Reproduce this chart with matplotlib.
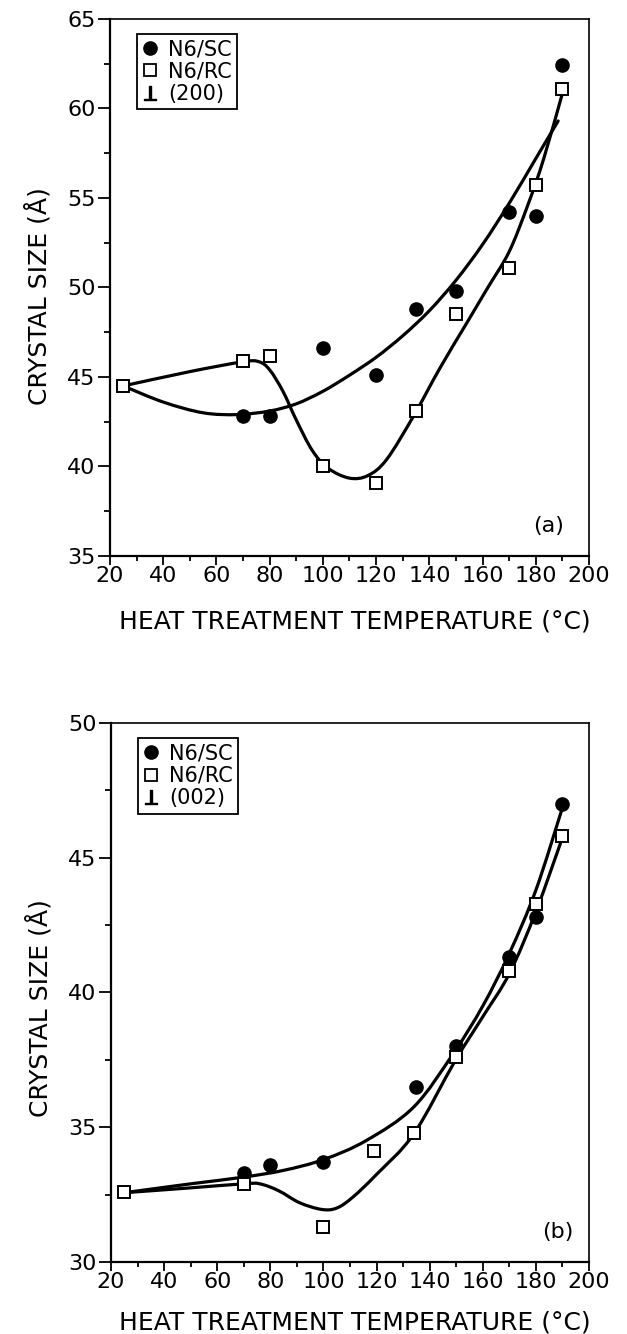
import numpy as np
import matplotlib
matplotlib.use("Agg")
import matplotlib.pyplot as plt
from matplotlib.path import Path
from matplotlib.patches import PathPatch
from matplotlib.lines import Line2D
from matplotlib.ticker import MultipleLocator

plt.rcParams['font.family'] = ['DejaVu Sans']

# ---- measured crystal sizes, perpendicular to (200) ----
temp_a_sc = [70, 80, 100, 120, 135, 150, 170, 180, 190]
size_a_sc = [42.8, 42.8, 46.6, 45.1, 48.8, 49.8, 54.2, 54.0, 62.4]
temp_a_rc = [25, 70, 80, 100, 120, 135, 150, 170, 180, 190]
size_a_rc = [44.5, 45.9, 46.2, 40.0, 39.1, 43.1, 48.5, 51.1, 55.7, 61.1]

# hand-drawn trend curves (knots along each line)
fit_a_sc_t = [25, 40, 55, 68, 80, 90, 100, 110, 120, 130, 140, 150, 160, 170, 180, 188.4]
fit_a_sc_y = [44.5, 43.6, 43.0, 42.9, 43.1, 43.5, 44.2, 45.1, 46.1, 47.3, 48.7, 50.4, 52.4, 54.7, 57.2, 59.3]
fit_a_rc_t = [25, 50, 70, 76, 80, 85, 90, 96, 102, 110, 117, 124, 134, 144, 154, 162, 170, 177, 183, 190.1]
fit_a_rc_y = [44.5, 45.3, 45.85, 45.85, 45.4, 44.2, 42.6, 40.9, 39.9, 39.35, 39.5, 40.4, 42.8, 45.5,
              48.0, 50.0, 52.0, 54.6, 57.2, 60.9]

# ---- measured crystal sizes, perpendicular to (002) ----
temp_b_sc = [70, 80, 100, 135, 150, 170, 180, 190]
size_b_sc = [33.3, 33.6, 33.7, 36.5, 38.0, 41.3, 42.8, 47.0]
temp_b_rc = [25, 70, 100, 119, 134, 150, 170, 180, 190]
size_b_rc = [32.6, 32.9, 31.3, 34.1, 34.8, 37.6, 40.8, 43.3, 45.8]

fit_b_sc_t = [25, 50, 70, 85, 100, 116, 134, 149, 160, 170, 180, 189.9]
fit_b_sc_y = [32.57, 32.9, 33.15, 33.4, 33.8, 34.5, 35.75, 37.75, 39.5, 41.45, 43.8, 46.83]
fit_b_rc_t = [25, 50, 70, 76, 83, 91, 99.3, 105, 111, 120, 134, 149.5, 160, 170, 180, 189.9]
fit_b_rc_y = [32.57, 32.75, 32.9, 32.9, 32.65, 32.2, 31.95, 32.0, 32.4, 33.25, 34.75, 37.45, 39.1,
              40.7, 43.0, 45.72]

x_ticks = [20, 40, 60, 80, 100, 120, 140, 160, 180, 200]


def smooth_curve(ax, ts, ys, lw=2.3):
    """Draw a smooth Catmull-Rom style Bezier path through the given knots."""
    p = np.column_stack([ts, ys]).astype(float)
    pts = np.vstack([p[0], p, p[-1]])
    verts = [tuple(p[0])]
    codes = [Path.MOVETO]
    for i in range(1, len(pts) - 2):
        p0, p1, p2, p3 = pts[i - 1], pts[i], pts[i + 1], pts[i + 2]
        c1 = p1 + (p2 - p0) / 6.0
        c2 = p2 - (p3 - p1) / 6.0
        verts += [tuple(c1), tuple(c2), tuple(p2)]
        codes += [Path.CURVE4] * 3
    ax.add_patch(PathPatch(Path(verts, codes), facecolor='none', edgecolor='black',
                           lw=lw, capstyle='round', joinstyle='round', zorder=2))


def style_axes(ax, ylim, plane, tag, tag_x, xlabel_y, ylabel_y):
    ax.set_xlim(20, 200)
    ax.set_ylim(*ylim)
    ax.set_xticks(x_ticks)
    ax.xaxis.set_minor_locator(MultipleLocator(10))
    ax.yaxis.set_major_locator(MultipleLocator(5))
    ax.yaxis.set_minor_locator(MultipleLocator(2.5))
    ax.tick_params(axis='x', which='major', direction='out', length=6.5, width=1.3,
                   labelsize=16, pad=1)
    ax.tick_params(axis='x', which='minor', direction='out', length=3.5, width=1.3)
    ax.tick_params(axis='y', which='major', direction='out', length=8.5, width=1.3,
                   labelsize=16, pad=2)
    ax.tick_params(axis='y', which='minor', direction='out', length=4.5, width=1.3)
    for side in ['left', 'bottom']:
        ax.spines[side].set_linewidth(1.6)
    for side in ['top', 'right']:
        ax.spines[side].set_linewidth(1.2)
    ax.set_xlabel('HEAT TREATMENT TEMPERATURE (°C)', fontsize=18, va='top')
    ax.xaxis.set_label_coords(0.511, xlabel_y)
    ax.set_ylabel('CRYSTAL SIZE (Å)', fontsize=18, va='center')
    ax.yaxis.set_label_coords(-0.150, ylabel_y)

    handles = [
        Line2D([], [], marker='o', ls='none', color='black', markersize=9.5),
        Line2D([], [], marker='s', ls='none', mfc='white', mec='black', mew=1.3, markersize=9),
        Line2D([], [], marker=r'$\perp$', ls='none', color='black', markersize=10),
    ]
    labels = ['N6/SC', 'N6/RC', plane]
    leg = ax.legend(handles, labels, loc='upper left', bbox_to_anchor=(0.056, 0.972),
                    borderaxespad=0, fancybox=False, framealpha=1, edgecolor='black',
                    fontsize=15, handlelength=0.8, handletextpad=0.45, labelspacing=0.12,
                    borderpad=0.25)
    leg.get_frame().set_linewidth(1.3)
    ax.text(tag_x, 0.055, tag, transform=ax.transAxes, fontsize=16, ha='center', va='center')


fig = plt.figure(figsize=(6.27, 13.34), dpi=100)
ax_a = fig.add_axes([0.1754, 0.5832, 0.7640, 0.4026])
ax_b = fig.add_axes([0.1770, 0.0540, 0.7624, 0.4040])

smooth_curve(ax_a, fit_a_sc_t, fit_a_sc_y)
smooth_curve(ax_a, fit_a_rc_t, fit_a_rc_y)
ax_a.plot(temp_a_sc, size_a_sc, 'o', color='black', markersize=9.5, zorder=3)
ax_a.plot(temp_a_rc, size_a_rc, 's', mfc='white', mec='black', mew=1.4, markersize=8.5, zorder=4)
style_axes(ax_a, (35, 65), '(200)', '(a)', 0.915, -0.10, 0.484)

smooth_curve(ax_b, fit_b_sc_t, fit_b_sc_y)
smooth_curve(ax_b, fit_b_rc_t, fit_b_rc_y)
ax_b.plot(temp_b_sc, size_b_sc, 'o', color='black', markersize=9.5, zorder=3)
ax_b.plot(temp_b_rc, size_b_rc, 's', mfc='white', mec='black', mew=1.4, markersize=8.5, zorder=4)
style_axes(ax_b, (30, 50), '(002)', '(b)', 0.935, -0.090, 0.471)

fig.savefig('out.png', dpi=100)
